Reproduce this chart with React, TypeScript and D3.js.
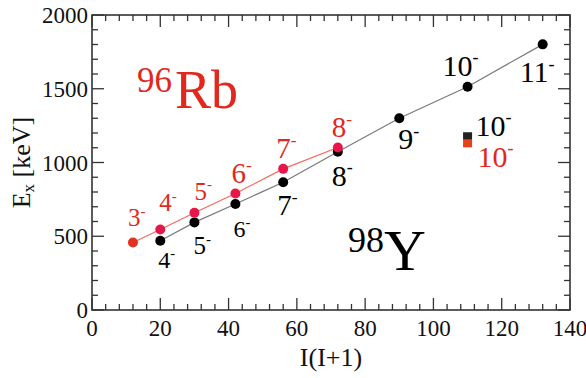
import * as d3 from "d3";

// 96Rb (red) band: I(I+1) and excitation energies
const rbSpins = [3, 4, 5, 6, 7, 8];
const rbX = [12, 20, 30, 42, 56, 72];
const rbE = [458, 546, 659, 790, 957, 1102];

// 98Y (black) band
const ySpins = [4, 5, 6, 7, 8, 9, 10, 11];
const yX = [20, 30, 42, 56, 72, 90, 110, 132];
const yE = [470, 594, 719, 866, 1073, 1300, 1514, 1801];

// isolated 10- states (squares)
const sqX = [110, 110];
const sqE = [1178, 1130];

const xTicks = [0, 20, 40, 60, 80, 100, 120, 140];
const yTicks = [0, 500, 1000, 1500, 2000];

// label placement relative to the point (dx, dy, font size in px)
const rbLabelPos = [[-5, -16, 25], [-1, -18, 25], [0, -13, 25], [-4, -10, 29], [-7, -11, 29], [-6, -10, 29]];
const yLabelPos = [[-2, 27, 24], [-1, 32, 25], [-2, 33, 24], [-6, 33, 29], [-6, 34, 30], [-1, 31, 30], [-25, -11, 30], [-23, 38, 30]];
const sqLabelPos = [[8, -4, 30], [10, 27, 30]];

const W = 586;
const H = 378;
const margin = { top: 15, right: 16, bottom: 68, left: 92 };
const iw = W - margin.left - margin.right;
const ih = H - margin.top - margin.bottom;

const FONT = "Liberation Serif, Times New Roman, serif";
const RED_TEXT = "#e2281c";
const RED_DOT = "#e8174a";
const RED_LINE = "#f26b5b";
const GRAY_LINE = "#7a7a7a";
const FRAME = "#333";

function SpinLabel({ x, y, spin, size, color }: { x: number; y: number; spin: number; size: number; color: string }) {
  return (
    <text x={x} y={y} fontSize={size} fill={color} style={{ fontFamily: FONT }}>
      {spin}
      <tspan fontSize={size * 0.6} dy={-size * 0.42}>-</tspan>
    </text>
  );
}

export default function App() {
  const x = d3.scaleLinear().domain([0, 140]).range([0, iw]);
  const y = d3.scaleLinear().domain([0, 2000]).range([ih, 0]);

  const line = d3
    .line<[number, number]>()
    .x((d) => x(d[0]))
    .y((d) => y(d[1]));

  const rbPts = rbX.map((v, i) => [v, rbE[i]] as [number, number]);
  const yPts = yX.map((v, i) => [v, yE[i]] as [number, number]);

  const xMinor = d3.range(0, 141, 4).filter((v) => v % 20 !== 0);
  const yMinor = d3.range(0, 2001, 100).filter((v) => v % 500 !== 0);

  const major = 12;
  const minor = 6;

  return (
    <svg width={W} height={H} style={{ position: "absolute", left: 0, top: 0, background: "#fff", fontFamily: FONT }}>
      <g transform={`translate(${margin.left},${margin.top})`}>
        {/* ticks on all four sides, pointing inward */}
        <g stroke={FRAME} strokeWidth={1.3}>
          {xTicks.map((t) => (
            <g key={"xt" + t}>
              <line x1={x(t)} x2={x(t)} y1={ih} y2={ih - major} />
              <line x1={x(t)} x2={x(t)} y1={0} y2={major} />
            </g>
          ))}
          {xMinor.map((t) => (
            <g key={"xm" + t}>
              <line x1={x(t)} x2={x(t)} y1={ih} y2={ih - minor} />
              <line x1={x(t)} x2={x(t)} y1={0} y2={minor} />
            </g>
          ))}
          {yTicks.map((t) => (
            <g key={"yt" + t}>
              <line x1={0} x2={major} y1={y(t)} y2={y(t)} />
              <line x1={iw} x2={iw - major} y1={y(t)} y2={y(t)} />
            </g>
          ))}
          {yMinor.map((t) => (
            <g key={"ym" + t}>
              <line x1={0} x2={minor} y1={y(t)} y2={y(t)} />
              <line x1={iw} x2={iw - minor} y1={y(t)} y2={y(t)} />
            </g>
          ))}
        </g>
        <rect x={0} y={0} width={iw} height={ih} fill="none" stroke={FRAME} strokeWidth={1.6} />

        {/* tick labels */}
        {xTicks.map((t) => (
          <text key={"xl" + t} x={x(t)} y={ih + 26} textAnchor="middle" fontSize={23} fill="#111">
            {t}
          </text>
        ))}
        {yTicks.map((t) => (
          <text key={"yl" + t} x={-4} y={y(t) + 8} textAnchor="end" fontSize={23} fill="#111">
            {t}
          </text>
        ))}

        {/* band lines */}
        <path d={line(yPts) || ""} fill="none" stroke={GRAY_LINE} strokeWidth={1.2} />
        <path d={line(rbPts) || ""} fill="none" stroke={RED_LINE} strokeWidth={1.2} />

        {/* points */}
        {yPts.map((p, i) => (
          <circle key={"yp" + i} cx={x(p[0])} cy={y(p[1])} r={5} fill="#000" />
        ))}
        {rbPts.map((p, i) => (
          <circle key={"rp" + i} cx={x(p[0])} cy={y(p[1])} r={5} fill={i === 0 ? "#e2321e" : RED_DOT} />
        ))}
        <rect x={x(sqX[0]) - 4.5} y={y(sqE[0]) - 4} width={9} height={7.5} fill="#222" />
        <rect x={x(sqX[1]) - 4.5} y={y(sqE[1]) - 3.5} width={9} height={7.5} fill="#e8401c" />

        {/* spin labels */}
        {rbSpins.map((s, i) => (
          <SpinLabel key={"rl" + i} x={x(rbX[i]) + rbLabelPos[i][0]} y={y(rbE[i]) + rbLabelPos[i][1]} size={rbLabelPos[i][2]} spin={s} color={RED_TEXT} />
        ))}
        {ySpins.map((s, i) => (
          <SpinLabel key={"yl" + i} x={x(yX[i]) + yLabelPos[i][0]} y={y(yE[i]) + yLabelPos[i][1]} size={yLabelPos[i][2]} spin={s} color="#000" />
        ))}
        <SpinLabel x={x(sqX[0]) + sqLabelPos[0][0]} y={(y(sqE[0]) + y(sqE[1])) / 2 + sqLabelPos[0][1]} size={sqLabelPos[0][2]} spin={10} color="#000" />
        <SpinLabel x={x(sqX[1]) + sqLabelPos[1][0]} y={(y(sqE[0]) + y(sqE[1])) / 2 + sqLabelPos[1][1]} size={sqLabelPos[1][2]} spin={10} color={RED_TEXT} />

        {/* nucleus names */}
        <text x={137 - margin.left} y={108 - margin.top} fill={RED_TEXT}>
          <tspan fontSize={35} dy={-16}>96</tspan>
          <tspan fontSize={54} dy={16} dx={3}>Rb</tspan>
        </text>
        <text x={348 - margin.left} y={270 - margin.top} fill="#000">
          <tspan fontSize={36} dy={-18}>98</tspan>
          <tspan fontSize={58} dy={18}>Y</tspan>
        </text>
      </g>

      {/* axis titles */}
      <text x={margin.left + iw / 2} y={366} textAnchor="middle" fontSize={26} fill="#111">
        I(I+1)
      </text>
      <text transform={`translate(30,${margin.top + ih / 2}) rotate(-90)`} textAnchor="middle" fontSize={26} fill="#111">
        E<tspan fontSize={17} dy={4}>x</tspan>
        <tspan dy={-4}> [keV]</tspan>
      </text>
    </svg>
  );
}
